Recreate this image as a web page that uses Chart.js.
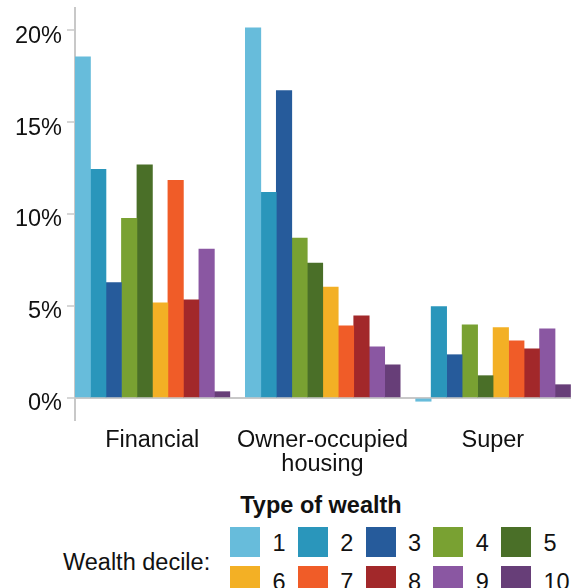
<!DOCTYPE html>
<html>
<head>
<meta charset="utf-8">
<script src="https://cdn.jsdelivr.net/npm/chart.js@4.4.1/dist/chart.umd.min.js"></script>
<style>
  html, body { margin: 0; padding: 0; background: #fff; overflow: hidden; }
  #wrap { position: relative; width: 571px; height: 588px; overflow: hidden;
          font-family: "Liberation Sans", Arial, sans-serif; color: #111; }
  #wealthChart { position: absolute; left: 0; top: 0; }
  .txt { position: absolute; font-size: 23.5px; line-height: 23.5px; white-space: nowrap; }
  .sw { position: absolute; width: 30px; height: 30px; }
</style>
</head>
<body>
<div id="wrap">
  <canvas id="wealthChart" width="586" height="490"></canvas>
  <div class="txt" style="font-weight:bold; top:494px; left:0; width:642px; text-align:center;">Type of wealth</div>
  <div class="txt" style="left:63px; top:551px;">Wealth decile:</div>
  <div id="legend"></div>
</div>
<script>
// share of each type of wealth held, by wealth decile (%)
const categories = [['Financial'], ['Owner-occupied', 'housing'], ['Super']];
const deciles = ['1', '2', '3', '4', '5', '6', '7', '8', '9', '10'];
const financial = [18.55, 12.43, 6.27, 9.76, 12.68, 5.17, 11.83, 5.33, 8.09, 0.34];
const housing = [20.12, 11.18, 16.71, 8.69, 7.33, 6.03, 3.92, 4.46, 2.78, 1.80];
const superannuation = [-0.18, 4.96, 2.35, 3.97, 1.21, 3.82, 3.11, 2.67, 3.76, 0.72];
const yTicks = [0, 5, 10, 15, 20];

const colours = ['#67bcdb', '#2a96bb', '#265b9b', '#79a132', '#4a6f28',
                 '#f3b025', '#f05c28', '#a2282a', '#8a57a2', '#673e78'];

const datasets = deciles.map((d, i) => ({
  label: d,
  data: [financial[i], housing[i], superannuation[i]],
  backgroundColor: colours[i],
  borderWidth: 0
}));
// empty slot that leaves the gap after each group
datasets.push({ label: '', data: [null, null, null] });

const axisGrey = '#c8c8c8';
const font = { family: '"Liberation Sans", Arial, sans-serif', size: 23.5, lineHeight: 1 };

new Chart(document.getElementById('wealthChart'), {
  type: 'bar',
  data: { labels: categories, datasets: datasets },
  options: {
    responsive: false,
    animation: false,
    devicePixelRatio: 1,
    categoryPercentage: 1,
    barPercentage: 1,
    layout: { padding: { top: 8, left: 0, right: 0, bottom: 0 } },
    plugins: { legend: { display: false }, tooltip: { enabled: false } },
    scales: {
      x: {
        grid: { display: false, drawTicks: false },
        border: { display: false },
        ticks: { color: '#111', font: font, padding: 9, labelOffset: -8, maxRotation: 0, autoSkip: false },
        afterFit: s => { s.height = 70; s.paddingLeft = 0; s.paddingRight = 0; }
      },
      y: {
        min: -1.2,
        max: 21.2,
        afterBuildTicks: s => { s.ticks = yTicks.map(v => ({ value: v })); },
        afterFit: s => { s.width = 75; s.paddingTop = 0; s.paddingBottom = 0; },
        border: { display: true, color: axisGrey, width: 2 },
        grid: {
          color: c => (c.tick && c.tick.value === 0) ? axisGrey : 'rgba(0,0,0,0)',
          lineWidth: 2,
          tickColor: axisGrey,
          tickWidth: 1.5,
          tickLength: 8
        },
        ticks: {
          color: '#111',
          font: font,
          padding: 5,
          labelOffset: 6,
          callback: v => v + '%'
        }
      }
    }
  }
});

// legend, two rows of five
const legend = document.getElementById('legend');
deciles.forEach((d, i) => {
  const col = i % 5, row = Math.floor(i / 5);
  const left = 230 + col * 67.75, top = 527 + row * 38.5;
  const sw = document.createElement('div');
  sw.className = 'sw';
  sw.style.left = left + 'px';
  sw.style.top = top + 'px';
  sw.style.background = colours[i];
  legend.appendChild(sw);
  const t = document.createElement('div');
  t.className = 'txt';
  t.style.left = (left + 42.5) + 'px';
  t.style.top = (top + 5) + 'px';
  t.textContent = d;
  legend.appendChild(t);
});
</script>
</body>
</html>
